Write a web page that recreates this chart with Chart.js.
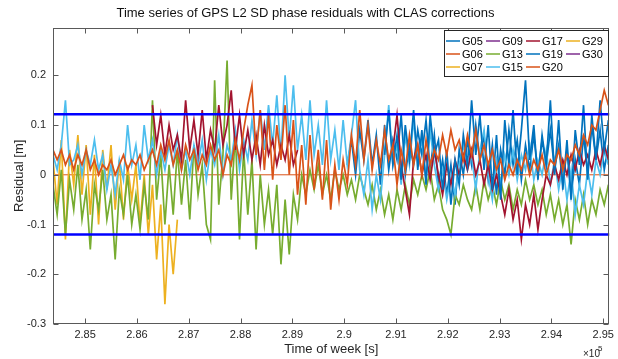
<!DOCTYPE html>
<html>
<head>
<meta charset="utf-8">
<script src="https://cdn.jsdelivr.net/npm/chart.js@4.4.0/dist/chart.umd.min.js"></script>
<style>
  html, body { margin: 0; padding: 0; background: #fff; }
  #wrap { width: 618px; height: 359px; }
</style>
</head>
<body>
<div id="wrap"><canvas id="resid" width="618" height="359"></canvas></div>
<script>
// sample grid of the residual series (time of week, s)
var T0 = 284380;
var DT = 80;
var N = 135;
var times = [];
for (var i = 0; i < N; i++) times.push(T0 + i * DT);

var xMin = 284380, xMax = 295120;
var xTicks = [285000, 286000, 287000, 288000, 289000, 290000, 291000, 292000, 293000, 294000, 295000];
var yTicks = [-0.3, -0.2, -0.1, 0, 0.1, 0.2];
var thresholds = [0.122, -0.12];

// satellites, in plotting order
var satNames = ['G05', 'G06', 'G07', 'G09', 'G13', 'G15', 'G17', 'G19', 'G20', 'G29', 'G30'];
var satColors = ['#0072BD', '#D95319', '#EDB120', '#7E2F8E', '#77AC30', '#4DBEEE', '#A2142F', '#0072BD', '#D95319', '#EDB120', '#7E2F8E'];

// first sample index of each series
var satStart = [71, 0, 0, 0, 0, 0, 24, 80, 0, 0, 0];

var g05 = [0.02, 0.07, 0.0, 0.09, 0.03, 0.11, 0.02, 0.08, -0.02, 0.1,
  0.01, 0.07, 0.03, 0.12, 0.0, 0.06, 0.02, 0.09, 0.04, 0.11,
  0.01, 0.08, -0.02, 0.03, -0.04, 0.02, -0.06, 0.05, 0.0, 0.07,
  0.02, 0.1, 0.03, 0.08, -0.01, 0.06, -0.04, 0.05, 0.0, 0.09,
  0.02, 0.07, -0.01, 0.06, 0.01, 0.08, 0.0, 0.07, 0.02, 0.09,
  0.01, 0.06, -0.02, 0.05, -0.04, 0.03, -0.02, 0.08, 0.0, 0.1,
  0.03, 0.09, 0.01, 0.06];

// reference satellite: zero over the whole span
var g06 = [0, 0];

var g07 = [0.03, -0.06, 0.07, -0.13, 0.05, -0.02, 0.08, -0.04, 0.06, -0.08,
  0.04, -0.1, 0.05, -0.03, 0.06, -0.07, 0.03, -0.09, 0.02, -0.05,
  0.02, -0.1, 0.0, -0.12, -0.02, -0.17, -0.06, -0.26, -0.1, -0.2,
  -0.09];

var g09 = [];

var g13 = [-0.02, -0.08, 0.01, -0.12, -0.01, -0.07, 0.02, -0.09, -0.03, -0.15,
  -0.02, -0.07, 0.01, -0.09, -0.04, -0.17, -0.03, -0.08, 0.0, -0.1,
  -0.04, -0.11, -0.02, -0.09, 0.15, -0.05, 0.04, -0.1, 0.02, -0.08,
  0.05, -0.06, 0.03, -0.09, 0.06, -0.04, 0.02, -0.1, -0.13, 0.19,
  -0.06, 0.04, 0.23, -0.05, 0.08, -0.13, 0.05, -0.08, 0.03, -0.15,
  0.0, -0.1, -0.03, -0.12, -0.02, -0.18, -0.05, -0.16, -0.04, -0.09,
  0.0, -0.04, 0.01, -0.03, 0.02, -0.04, 0.0, -0.05, 0.01, -0.03,
  0.0, -0.04, -0.01, -0.05, 0.0, -0.03, -0.06, -0.02, -0.07, -0.03,
  -0.08, -0.04, -0.09, -0.03, -0.07, -0.02, -0.06, -0.01, -0.04, 0.0,
  -0.03, 0.01, -0.05, -0.02, -0.07, -0.09, -0.12, -0.04, -0.06, -0.02,
  -0.05, -0.07, -0.02, -0.07, -0.01, -0.05, -0.02, -0.06, -0.01, -0.05,
  -0.02, -0.07, -0.03, -0.06, -0.01, -0.05, -0.02, -0.06, -0.03, -0.08,
  -0.04, -0.09, -0.05, -0.1, -0.06, -0.14, -0.05, -0.09, -0.04, -0.1,
  -0.05, -0.08, -0.03, -0.06, -0.02];

var g15 = [0.04, 0.01, 0.06, 0.15, 0.02, 0.03, 0.06, 0.0, 0.05, 0.02,
  0.07, 0.01, 0.04, -0.03, 0.02, -0.04, 0.03, -0.01, 0.1, 0.02,
  0.06, -0.01, 0.1, 0.03, 0.07, 0.0, 0.05, 0.01, 0.06, 0.02,
  0.08, 0.01, 0.05, 0.0, 0.06, 0.02, 0.07, -0.01, 0.05, 0.02,
  0.08, 0.0, 0.06, 0.03, 0.09, 0.01, 0.07, 0.03, 0.11, 0.04,
  0.13, 0.05, 0.14, 0.06, 0.16, 0.04, 0.2, 0.07, 0.18, 0.05,
  0.12, 0.03, 0.15, 0.04, 0.1, 0.02, 0.15, 0.03, 0.09, 0.01,
  0.11, 0.02, 0.08, 0.15, 0.01, -0.04, 0.03, -0.07, 0.0, -0.05,
  0.04, 0.14, 0.02, 0.06, -0.02, 0.08, 0.02, 0.11, 0.03, 0.07,
  -0.01, 0.09, 0.02, -0.03, 0.01, -0.05, 0.0, -0.04, 0.02, 0.06,
  0.01, 0.04, -0.03, 0.05, 0.09, 0.0, -0.05, 0.03, -0.02, 0.04,
  0.0, 0.05, -0.01, 0.04, 0.01, 0.06, -0.01, 0.03, 0.0, 0.05,
  -0.02, 0.03, -0.03, 0.02, -0.05, 0.01, -0.08, -0.02, -0.06, 0.01,
  -0.04, 0.03, 0.0, 0.05, 0.02];

var g17 = [0.14, 0.06, 0.12, 0.04, 0.1, 0.05, 0.08, 0.03, 0.15, 0.05,
  0.11, 0.04, 0.13, 0.03, 0.09, 0.05, 0.14, 0.06, 0.1, 0.17,
  0.05, 0.12, 0.04, 0.09, 0.03, 0.08, 0.02, 0.1, 0.04, 0.07,
  0.02, 0.06, 0.03, 0.08, 0.02, 0.05,
  null, null, null, null, null, null, null, null, null, null, null,
  null, null, null, null, null, null, null, null, null, null, null,
  0.05, 0.12, 0.02, -0.03, -0.08, 0.03, 0.06, 0.0, 0.04, -0.01,
  0.05, 0.0, -0.04, 0.02, -0.02, 0.03, 0.0, 0.04, 0.01, 0.05,
  0.0, 0.03, -0.02, 0.02, -0.03, 0.0, -0.04, -0.08, -0.03, -0.09,
  -0.05, -0.13, -0.06, -0.1, -0.04, -0.11, -0.05, 0.0, -0.02, 0.02,
  -0.01, 0.03, 0.0, 0.04, 0.01, 0.05, 0.02, 0.04, 0.01, 0.05,
  0.02, 0.06, 0.03];

var g19 = [0.04, 0.13, 0.02, 0.08, -0.01, 0.1, 0.03, 0.13, 0.01, 0.09,
  -0.02, 0.12, 0.04, 0.07, -0.03, 0.05, -0.06, 0.03, -0.02, 0.08,
  0.02, 0.15, 0.04, 0.12, 0.01, 0.1, -0.03, 0.08, -0.05, 0.11,
  0.02, 0.13, 0.0, 0.09, 0.19, 0.03, 0.1, -0.01, 0.08, 0.02,
  0.15, 0.0, 0.11, -0.03, 0.07, -0.05, 0.09, 0.02, 0.14, -0.01,
  0.12, 0.03, 0.15, 0.05, 0.11];

var g20 = [0.05, 0.03, 0.05, 0.02, 0.04, 0.01, 0.04, 0.02, 0.05, 0.01,
  0.03, 0.0, 0.02, 0.01, 0.03, 0.0, 0.02, 0.04, 0.01, 0.03,
  0.02, 0.04, 0.01, 0.03, 0.05, 0.02, 0.06, 0.03, 0.07, 0.02,
  0.05, 0.01, 0.06, 0.03, 0.05, 0.01, 0.04, 0.02, 0.06, 0.03,
  0.05, 0.0, 0.04, 0.02, 0.07, 0.03, 0.09, 0.14, 0.18, 0.04,
  0.13, 0.01, 0.12, -0.01, 0.1, 0.03, 0.14, 0.0, 0.11, -0.04,
  0.06, -0.06, 0.08, -0.03, 0.05, -0.05, 0.07, -0.07, 0.02, -0.05,
  0.03, -0.02, 0.08, 0.02, 0.13, 0.03, 0.1, 0.01, 0.07, 0.02,
  0.09, 0.03, 0.06, -0.02, 0.05, 0.01, 0.08, 0.02, 0.06, 0.0,
  0.07, 0.02, 0.05, 0.03, 0.08, 0.04, 0.09, 0.05, 0.07, 0.03,
  0.08, 0.04, 0.09, 0.03, 0.06, 0.02, 0.05, 0.01, 0.03, -0.01,
  0.02, 0.0, 0.03, 0.01, 0.04, 0.0, 0.03, 0.01, 0.04, 0.0,
  0.03, 0.02, 0.05, 0.01, 0.04, 0.03, 0.06, 0.04, 0.08, 0.06,
  0.1, 0.09, 0.13, 0.17, 0.14];

var g29 = [];
var g30 = [];

var satValues = [g05, g06, g07, g09, g13, g15, g17, g19, g20, g29, g30];

var FONT = '"Liberation Sans", Arial, Helvetica, sans-serif';
var TXT = '#262626';

function pad(start, vals) {
  var out = [];
  for (var i = 0; i < N; i++) {
    var k = i - start;
    out.push(k >= 0 && k < vals.length ? vals[k] : null);
  }
  return out;
}

var datasets = [];
satNames.forEach(function (name, k) {
  var data;
  if (name === 'G06') {
    data = [{ x: times[0], y: g06[0] }, { x: times[N - 1], y: g06[1] }];
  } else {
    data = pad(satStart[k], satValues[k]);
  }
  datasets.push({
    label: name,
    data: data,
    borderColor: satColors[k],
    borderWidth: name === 'G06' ? 1 : 1.7,
    pointRadius: 0,
    tension: 0,
    spanGaps: false,
    order: 100 - k
  });
});

thresholds.forEach(function (th) {
  datasets.push({
    label: 'limit',
    data: [{ x: xMin, y: th }, { x: xMax, y: th }],
    borderColor: '#0000FF',
    borderWidth: 2.5,
    pointRadius: 0,
    order: 0
  });
});

// MATLAB style box, inward ticks, legend and exponent
var framePlugin = {
  id: 'frame',
  afterDraw: function (chart) {
    var ctx = chart.ctx, a = chart.chartArea;
    var xs = chart.scales.x, ys = chart.scales.y;
    var L = Math.round(a.left) + 0.5, R = Math.round(a.right) - 0.5;
    var T = Math.round(a.top) + 0.5, B = Math.round(a.bottom) - 0.5;
    ctx.save();
    ctx.strokeStyle = '#595959';
    ctx.lineWidth = 1;
    ctx.strokeRect(L, T, R - L, B - T);
    ctx.beginPath();
    xTicks.forEach(function (v) {
      var px = Math.round(xs.getPixelForValue(v)) + 0.5;
      ctx.moveTo(px, B); ctx.lineTo(px, B - 5);
      ctx.moveTo(px, T); ctx.lineTo(px, T + 5);
    });
    yTicks.forEach(function (v) {
      var py = Math.round(ys.getPixelForValue(v)) + 0.5;
      ctx.moveTo(L, py); ctx.lineTo(L + 5, py);
      ctx.moveTo(R, py); ctx.lineTo(R - 5, py);
    });
    ctx.stroke();

    // legend box, filled column by column
    var bx = 444.5, by = 30.5, bw = 164, bh = 46;
    ctx.fillStyle = '#fff';
    ctx.fillRect(bx, by, bw, bh);
    ctx.strokeStyle = '#262626';
    ctx.strokeRect(bx, by, bw, bh);
    ctx.font = '11px ' + FONT;
    ctx.textBaseline = 'middle';
    ctx.textAlign = 'left';
    satNames.forEach(function (name, k) {
      var col = Math.floor(k / 3), row = k % 3;
      var tx = 462 + col * 40, ty = 41 + row * 13;
      ctx.strokeStyle = satColors[k];
      ctx.lineWidth = 1.5;
      ctx.beginPath();
      ctx.moveTo(tx - 16, ty); ctx.lineTo(tx - 2, ty);
      ctx.stroke();
      ctx.fillStyle = '#000';
      ctx.fillText(name, tx, ty + 0.5);
    });

    // axis exponent
    ctx.fillStyle = TXT;
    ctx.font = '10px ' + FONT;
    ctx.textBaseline = 'alphabetic';
    ctx.fillText('\u00d710', 583, 357);
    ctx.font = '8px ' + FONT;
    ctx.fillText('5', 598, 351);
    ctx.restore();
  }
};

new Chart(document.getElementById('resid').getContext('2d'), {
  type: 'line',
  data: { labels: times, datasets: datasets },
  options: {
    responsive: false,
    animation: false,
    devicePixelRatio: 1,
    layout: { padding: { left: 0, right: 7, top: 0, bottom: 0 } },
    plugins: {
      legend: { display: false },
      tooltip: { enabled: false },
      title: {
        display: true,
        text: 'Time series of GPS L2 SD phase residuals with CLAS corrections',
        color: '#111',
        font: { family: FONT, size: 13, weight: 'normal' },
        padding: { top: 6, bottom: 6 }
      }
    },
    scales: {
      x: {
        type: 'linear',
        min: xMin,
        max: xMax,
        grid: { display: false, drawTicks: false },
        border: { display: false },
        afterBuildTicks: function (s) { s.ticks = xTicks.map(function (v) { return { value: v }; }); },
        afterFit: function (s) { s.height = 35; },
        ticks: {
          color: TXT,
          font: { family: FONT, size: 11 },
          padding: 4,
          maxRotation: 0,
          autoSkip: false,
          callback: function (v) { return Number((v / 1e5).toFixed(2)).toString(); }
        },
        title: {
          display: true,
          text: 'Time of week [s]',
          color: TXT,
          font: { family: FONT, size: 13 },
          padding: { top: 0, bottom: 2 }
        }
      },
      y: {
        min: -0.3,
        max: 0.296,
        grid: { display: false, drawTicks: false },
        border: { display: false },
        afterBuildTicks: function (s) { s.ticks = yTicks.map(function (v) { return { value: v }; }); },
        afterFit: function (s) { s.width = 53; },
        ticks: {
          color: TXT,
          font: { family: FONT, size: 11 },
          padding: 7,
          callback: function (v) { return (Math.round(v * 10) / 10).toString(); }
        },
        title: {
          display: true,
          text: 'Residual [m]',
          color: TXT,
          font: { family: FONT, size: 13 },
          padding: { top: 12, bottom: 0 }
        }
      }
    }
  },
  plugins: [framePlugin]
});
</script>
</body>
</html>
